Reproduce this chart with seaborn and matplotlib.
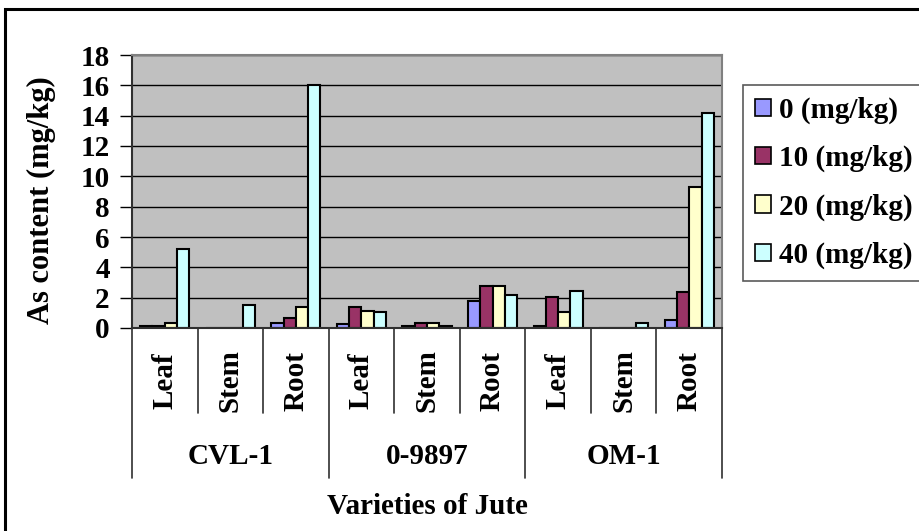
import matplotlib
matplotlib.use("Agg")
import matplotlib.pyplot as plt
import matplotlib.patches as mpatches
import numpy as np
import pandas as pd
import seaborn as sns

# Varieties and plant parts
varieties = ["CVL-1", "0-9897", "OM-1"]
parts = ["Leaf", "Stem", "Root"]
doses = ["0 (mg/kg)", "10 (mg/kg)", "20 (mg/kg)", "40 (mg/kg)"]

# As content (mg/kg) per slot: CVL-1 Leaf/Stem/Root, 0-9897 ..., OM-1 ...
dose_0 = [0.1, 0.0, 0.3, 0.25, 0.15, 1.8, 0.15, 0.0, 0.5]
dose_10 = [0.1, 0.0, 0.65, 1.4, 0.3, 2.8, 2.05, 0.0, 2.4]
dose_20 = [0.3, 0.0, 1.4, 1.15, 0.3, 2.8, 1.05, 0.0, 9.3]
dose_40 = [5.2, 1.5, 16.0, 1.05, 0.15, 2.15, 2.45, 0.3, 14.2]

colors = ["#9999FF", "#993366", "#FFFFCC", "#CCFFFF"]

slots = [f"{v} {p}" for v in varieties for p in parts]
rows = []
for dose, vals in zip(doses, [dose_0, dose_10, dose_20, dose_40]):
    for slot, val in zip(slots, vals):
        rows.append({"slot": slot, "dose": dose, "value": val})
df = pd.DataFrame(rows)

sns.set_style("white")
plt.rcParams["font.family"] = ["Liberation Serif", "DejaVu Serif"]
plt.rcParams["font.weight"] = "bold"
plt.rcParams["text.color"] = "black"
plt.rcParams["axes.labelcolor"] = "black"
plt.rcParams["ytick.color"] = "black"
plt.rcParams["xtick.color"] = "black"
FS = 21

fig = plt.figure(figsize=(9.2, 5.31), dpi=100)
ax = fig.add_axes([132 / 920, 1 - 328 / 531, 590 / 920, 273 / 531])
ax.set_facecolor("#C0C0C0")

sns.barplot(data=df, x="slot", y="value", hue="dose", order=slots,
            hue_order=doses, palette=colors, width=0.75, saturation=1,
            edgecolor="black", linewidth=1.5, errorbar=None, ax=ax)

ax.set_xlim(-0.5, len(slots) - 0.5)
ax.set_ylim(0, 18)
ax.set_yticks(np.arange(0, 19, 2))
ax.yaxis.grid(True, color="black", linewidth=1.0)
ax.set_axisbelow(True)
ax.tick_params(axis="y", direction="out", length=9, width=1, color="black",
               labelcolor="black", labelsize=FS, pad=7, left=True)
for lab in ax.get_yticklabels():
    lab.set_fontweight("bold")
ax.set_xticks([])
ax.set_xlabel("")

for side in ["top", "right"]:
    ax.spines[side].set_color("#808080")
    ax.spines[side].set_linewidth(1.5)
for side in ["left", "bottom"]:
    ax.spines[side].set_color("#303030")
    ax.spines[side].set_linewidth(1.5)

ax.set_ylabel("As content (mg/kg)", fontsize=FS + 1, fontweight="bold",
              color="black")
ax.yaxis.set_label_coords(-0.128, 0.47)

# Multi-level category axis
tr = ax.get_xaxis_transform()
short_y = -85 / 273
long_y = -150 / 273
for i in range(len(slots) + 1):
    xb = i - 0.5
    ybot = long_y if i % 3 == 0 else short_y
    ax.plot([xb, xb], [0, ybot], color="#303030", lw=1.2, transform=tr,
            clip_on=False)
for i, slot in enumerate(slots):
    ax.text(i, -53 / 273, parts[i % 3], rotation=90, ha="center", va="center",
            fontsize=FS, fontweight="bold", color="black", transform=tr)
for j, v in enumerate(varieties):
    ax.text(3 * j + 1, -129 / 273, v, ha="center", va="center",
            fontsize=FS, fontweight="bold", color="black", transform=tr)
ax.text(4, -179 / 273, "Varieties of Jute", ha="center", va="center",
        fontsize=FS, fontweight="bold", color="black", transform=tr)

# Legend
ax.get_legend().remove()
handles = [mpatches.Patch(facecolor=c, edgecolor="black", linewidth=1.2)
           for c in colors]
leg = fig.legend(handles, doses, loc="upper left",
                 bbox_to_anchor=(743 / 920, 1 - 85 / 531),
                 prop={"size": FS, "weight": "bold"},
                 handlelength=0.55, handleheight=0.55, handletextpad=0.3,
                 labelspacing=0.72, borderpad=0.4, borderaxespad=0,
                 frameon=True, fancybox=False)
leg.get_frame().set_edgecolor("#303030")
leg.get_frame().set_linewidth(1.2)
for t in leg.get_texts():
    t.set_color("black")

# Outer chart border
fig.patches.append(mpatches.Rectangle((5 / 920, -0.05), 1.0, 1 - 9 / 531 + 0.05,
                                      transform=fig.transFigure, fill=False,
                                      edgecolor="black", linewidth=2.2))

fig.savefig("out.png", dpi=100)
